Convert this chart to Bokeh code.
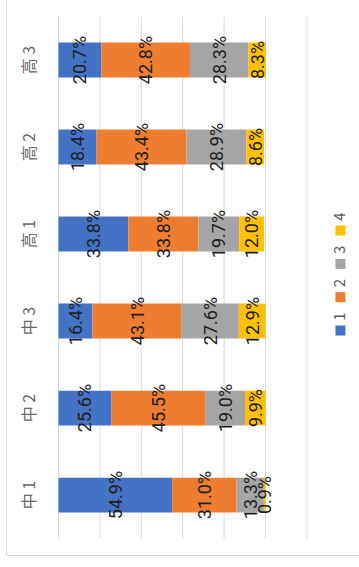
import numpy as np
from bokeh.plotting import figure
from bokeh.models import ColumnDataSource, Range1d, LinearAxis, FixedTicker
from bokeh.core.properties import value
from bokeh.embed import file_html
from bokeh.resources import INLINE

# ---- data ----
categories = ["中 1", "中 2", "中 3", "高 1", "高 2", "高 3"]
series_names = ["1", "2", "3", "4"]
s1 = [54.9, 25.6, 16.4, 33.8, 18.4, 20.7]
s2 = [31.0, 45.5, 43.1, 33.8, 43.4, 42.8]
s3 = [13.3, 19.0, 27.6, 19.7, 28.9, 28.3]
s4 = [0.9, 9.9, 12.9, 12.0, 8.6, 8.3]
grid_ticks = [0, 20, 40, 60, 80, 100, 120]
colors = ["#4472C4", "#ED7D31", "#A5A5A5", "#FFC000"]

NUM_FONT = "Liberation Sans Narrow, Roboto"
CJK_FONT = "Noto Sans CJK JP"

p = figure(width=359, height=567, output_backend="svg", toolbar_location=None,
           x_range=Range1d(-25.1, 145.4), y_range=Range1d(-0.695, 5.684),
           x_axis_type=None, y_axis_type=None,
           min_border_left=6, min_border_right=0, min_border_top=0, min_border_bottom=12)
p.outline_line_color = None
p.background_fill_color = "white"
p.border_fill_color = "white"

for loc in ("left", "below"):
    ax = LinearAxis(ticker=FixedTicker(ticks=[]), axis_line_color="#d9d9d9", axis_line_width=1,
                    major_tick_line_color=None, minor_tick_line_color=None,
                    major_tick_out=0, minor_tick_out=0, major_label_standoff=0,
                    major_label_text_font_size="0px")
    p.add_layout(ax, loc)

idx = list(range(len(categories)))

# gridlines (vertical value grid)
p.segment(x0=grid_ticks, x1=grid_ticks, y0=-0.5, y1=len(categories) - 0.5,
          line_color="#d9d9d9", line_width=1)

series = [s1, s2, s3, s4]
left = np.zeros(len(categories))
for name, vals, col in zip(series_names, series, colors):
    vals = np.array(vals)
    right = left + vals
    src = ColumnDataSource(dict(y=idx, left=left, right=right,
                                mid=(left + right) / 2,
                                lab=[f"{v:.1f}%" for v in vals]))
    p.hbar(y="y", left="left", right="right", height=0.4, source=src,
           fill_color=col, line_color=None)
    p.text(x="mid", y="y", text="lab", source=src, angle=np.pi / 2,
           text_align="center", text_baseline="middle",
           text_font=value(NUM_FONT), text_font_size="18px", text_color="#1e1e1e")
    left = right

# category labels
p.text(x=[-14.5] * len(categories), y=idx, text=categories, angle=np.pi / 2,
       text_align="center", text_baseline="middle",
       text_font=value(CJK_FONT), text_font_size="16px", text_color="#6a6a6a")

# legend (rotated)
leg_x = 136.2
leg_y0 = 1.891
leg_step = 0.383
leg_y = [leg_y0 + k * leg_step for k in range(len(series_names))]
p.scatter(x=[leg_x] * len(series_names), y=leg_y, marker="square", size=10,
          fill_color=colors, line_color=None)
p.text(x=[leg_x] * len(series_names), y=leg_y, text=series_names, angle=np.pi / 2,
       y_offset=-14, x_offset=-1, text_align="center", text_baseline="middle",
       text_font=value(CJK_FONT), text_font_size="15px", text_color="#595959")

open("out.html", "w").write(file_html(p, INLINE))
